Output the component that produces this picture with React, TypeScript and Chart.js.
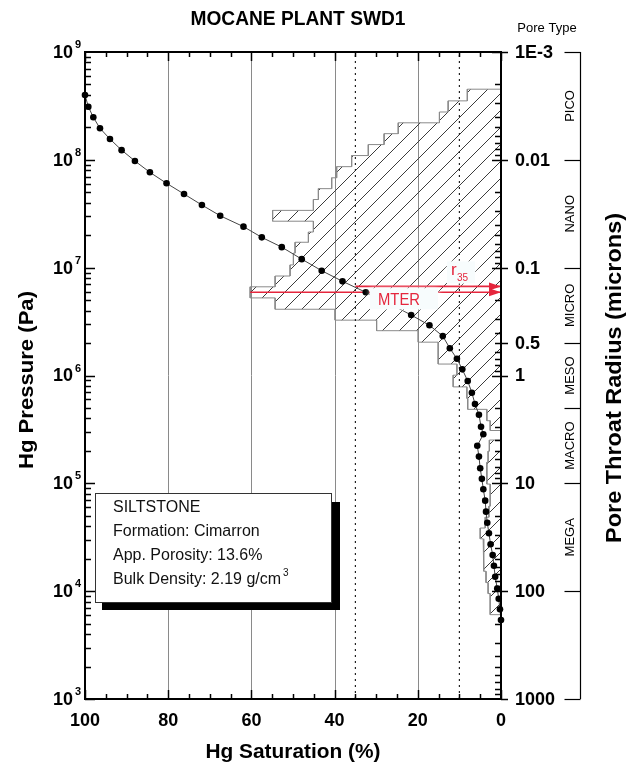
import React, { useEffect, useRef } from "react";
import { Chart, registerables } from "chart.js";

Chart.register(...registerables);

// Mercury injection capillary pressure curve: Hg saturation (%) vs injection pressure (Pa)
const HG_SATURATION = [
  100, 99.2, 98.0, 96.4, 94.0, 91.2, 88.0, 84.4, 80.4, 76.2, 71.9, 67.5, 61.9, 57.5, 52.7, 47.9,
  43.1, 38.1, 32.5, 26.9, 21.6, 17.2, 14.0, 12.3, 10.6, 9.3, 8.0, 7.0, 6.25, 5.3, 4.8, 4.25, 5.7,
  5.3, 5.0, 4.6, 4.25, 3.8, 3.6, 3.3, 2.9, 2.5, 2.0, 1.7, 1.4, 0.9, 0.55, 0.25, 0,
];
const HG_PRESSURE = [
  3.99e8, 3.11e8, 2.48e8, 1.96e8, 1.56e8, 1.23e8, 9.76e7, 7.66e7, 6.06e7, 4.82e7, 3.81e7, 3.03e7,
  2.4e7, 1.91e7, 1.55e7, 1.2e7, 9.37e6, 7.47e6, 5.91e6, 4.65e6, 3.64e6, 2.92e6, 2.32e6, 1.79e6,
  1.43e6, 1.14e6, 8.89e5, 6.92e5, 5.44e5, 4.33e5, 3.35e5, 2.85e5, 2.23e5, 1.77e5, 1.38e5, 1.1e5,
  8.81e4, 6.91e4, 5.46e4, 4.31e4, 3.44e4, 2.72e4, 2.16e4, 1.72e4, 1.36e4, 1.06e4, 8.51e3, 6.79e3,
  5.4e3,
];
// Incremental pore-throat distribution, one bar per pressure step (drawn on the saturation axis)
const PSD_INCREMENT = [
  8.1, 12.7, 14.8, 24.7, 28.1, 31.9, 35.9, 39.5, 40.7, 43.9, 45.1, 54.9, 45.1, 46.3, 49.5, 49.9,
  50.7, 54.3, 60.3, 54.3, 39.9, 29.9, 19.9, 15.1, 15.1, 10.6, 11.5, 8.2, 8.0, 3.4, 2.6, 0, 2.8,
  3.1, 3.4, 3.4, 2.6, 2.6, 2.9, 3.8, 5.0, 4.3, 4.1, 4.1, 3.6, 3.1, 2.6, 2.6, 0,
];

const SAT_TICK_LABELS = [100, 80, 60, 40, 20, 0];
const SAT_GRID = [80, 60, 40, 20];
const SAT_CUTOFFS = [35, 10];
const PRESSURE_EXPONENTS = [3, 4, 5, 6, 7, 8, 9];
const RADIUS_TICK_VALUES = [1e-3, 0.01, 0.1, 0.5, 1, 10, 100, 1000];
const RADIUS_TICK_LABELS = ["1E-3", "0.01", "0.1", "0.5", "1", "10", "100", "1000"];
const PORE_TYPES = ["PICO", "NANO", "MICRO", "MESO", "MACRO", "MEGA"];
const PORE_TYPE_BOUNDS = [1e-3, 0.01, 0.1, 0.5, 2, 10, 100, 1000];

const R35_SAT = 35;
const R35_PRESSURE = 6.7e6;
const MTER_SAT = 60.3;
const MTER_PRESSURE = 5.91e6;

const TITLE = "MOCANE PLANT SWD1";
const INFO_LINES = ["SILTSTONE", "Formation: Cimarron", "App. Porosity: 13.6%", "Bulk Density: 2.19 g/cm"];
const INFO_SUPERSCRIPT = "3";

const FONT = '"Liberation Sans", Arial, Helvetica, sans-serif';
const RED = "#e5263d";
const W = 618;
const H = 759;

function binEdges(p: number[]): number[] {
  const n = p.length;
  const e: number[] = [p[0] * Math.sqrt(p[0] / p[1])];
  for (let i = 0; i < n - 1; i++) e.push(Math.sqrt(p[i] * p[i + 1]));
  e.push(p[n - 1] * Math.sqrt(p[n - 1] / p[n - 2]));
  return e;
}

function histogramOutline() {
  const e = binEdges(HG_PRESSURE);
  const pts: { x: number; y: number }[] = [{ x: 0, y: e[0] }];
  PSD_INCREMENT.forEach((v, i) => {
    pts.push({ x: v, y: e[i] }, { x: v, y: e[i + 1] });
  });
  pts.push({ x: 0, y: e[e.length - 1] }, { x: 0, y: e[0] });
  return pts;
}

function makeHatch(ctx: CanvasRenderingContext2D): CanvasPattern {
  const s = 17;
  const c = document.createElement("canvas");
  c.width = s;
  c.height = s;
  const g = c.getContext("2d")!;
  g.strokeStyle = "#3c3c3c";
  g.lineWidth = 1;
  g.beginPath();
  g.moveTo(-2, s + 2);
  g.lineTo(s + 2, -2);
  g.moveTo(-2, 2);
  g.lineTo(2, -2);
  g.moveTo(s - 2, s + 2);
  g.lineTo(s + 2, s - 2);
  g.stroke();
  return ctx.createPattern(c, "repeat")!;
}

function fitText(
  ctx: CanvasRenderingContext2D,
  text: string,
  x: number,
  y: number,
  font: string,
  width: number,
  rot = 0
) {
  ctx.save();
  ctx.font = font;
  ctx.translate(x, y);
  ctx.rotate(rot);
  const w = ctx.measureText(text).width;
  ctx.scale(width / w, 1);
  ctx.textAlign = "center";
  ctx.textBaseline = "middle";
  ctx.fillText(text, 0, 0);
  ctx.restore();
}

function seg(ctx: CanvasRenderingContext2D, x1: number, y1: number, x2: number, y2: number) {
  ctx.beginPath();
  ctx.moveTo(x1, y1);
  ctx.lineTo(x2, y2);
  ctx.stroke();
}

const decorations = {
  id: "decorations",
  beforeDatasetsDraw(chart: any) {
    const { ctx, chartArea: a, scales } = chart;
    ctx.save();
    ctx.strokeStyle = "#8a8a8a";
    ctx.lineWidth = 1;
    SAT_GRID.forEach((v) => {
      const px = Math.round(scales.x.getPixelForValue(v)) + 0.5;
      seg(ctx, px, a.top, px, a.bottom);
    });
    ctx.restore();
  },
  afterDatasetsDraw(chart: any) {
    const { ctx, chartArea: a, scales } = chart;
    const xs = scales.x;
    const ys = scales.y;
    const rs = scales.radius;
    ctx.save();

    // label backdrops
    ctx.fillStyle = "#f7fcfd";
    ctx.shadowColor = "rgba(255,255,255,0.9)";
    ctx.shadowBlur = 5;
    const mterY = ys.getPixelForValue(MTER_PRESSURE);
    const r35Y = ys.getPixelForValue(R35_PRESSURE);
    ctx.fillRect(362, mterY - 4, 68, 21);
    ctx.fillRect(439, r35Y - 25, 28, 22);
    ctx.shadowBlur = 0;

    ctx.fillStyle = RED;
    fitText(ctx, "MTER", 391, mterY + 8, `17px ${FONT}`, 42);
    ctx.textAlign = "left";
    ctx.textBaseline = "alphabetic";
    ctx.font = `17px ${FONT}`;
    ctx.fillText("r", 443, r35Y - 11);
    ctx.font = `10px ${FONT}`;
    ctx.fillText("35", 449, r35Y - 5);

    // arrowheads at the radius axis
    const tipX = xs.getPixelForValue(0);
    [r35Y, mterY].forEach((py) => {
      ctx.beginPath();
      ctx.moveTo(tipX, py);
      ctx.lineTo(tipX - 12, py - 4);
      ctx.lineTo(tipX - 12, py + 4);
      ctx.closePath();
      ctx.fill();
    });

    // sample description box with drop shadow
    ctx.fillStyle = "#000";
    ctx.fillRect(324, 494, 8, 108);
    ctx.fillRect(94, 595, 238, 7);
    ctx.fillStyle = "#fff";
    ctx.fillRect(87, 485, 237, 110);
    ctx.strokeStyle = "#333";
    ctx.lineWidth = 1;
    ctx.strokeRect(87.5, 485.5, 236, 109);
    ctx.fillStyle = "#111";
    ctx.textAlign = "left";
    ctx.textBaseline = "middle";
    INFO_LINES.forEach((t, i) => {
      const ty = 500 + i * 24;
      ctx.font = `16px ${FONT}`;
      ctx.fillText(t, 105, ty);
      if (i === INFO_LINES.length - 1) {
        const w = ctx.measureText(t).width;
        ctx.font = `10px ${FONT}`;
        ctx.fillText(INFO_SUPERSCRIPT, 105 + w + 2, ty - 7);
      }
    });

    // frame
    ctx.strokeStyle = "#000";
    ctx.lineWidth = 2;
    ctx.strokeRect(a.left, a.top, a.right - a.left, a.bottom - a.top);

    // saturation ticks (top and bottom, inward)
    ctx.lineWidth = 1.5;
    for (let v = 0; v <= 100; v += 5) {
      const px = Math.round(xs.getPixelForValue(v)) + 0.5;
      const len = v % 20 === 0 ? 9 : 5;
      seg(ctx, px, a.top, px, a.top + len);
      seg(ctx, px, a.bottom, px, a.bottom - len);
    }
    // pressure ticks (left, inward)
    for (let k = 3; k < 9; k++) {
      for (let m = 1; m < 10; m++) {
        const py = Math.round(ys.getPixelForValue(m * 10 ** k)) + 0.5;
        seg(ctx, a.left, py, a.left + (m === 1 ? 10 : 6), py);
      }
    }
    // radius ticks (right, inward minor + crossing labelled)
    for (let k = -3; k < 3; k++) {
      for (let m = 1; m < 10; m++) {
        const py = Math.round(rs.getPixelForValue(m * 10 ** k)) + 0.5;
        seg(ctx, a.right, py, a.right - (m === 1 ? 9 : 6), py);
      }
    }
    RADIUS_TICK_VALUES.forEach((v) => {
      const py = Math.round(rs.getPixelForValue(v)) + 0.5;
      seg(ctx, a.right, py, a.right + 7, py);
    });

    // tick labels
    ctx.fillStyle = "#000";
    ctx.textBaseline = "middle";
    PRESSURE_EXPONENTS.forEach((k) => {
      const py = ys.getPixelForValue(10 ** k);
      ctx.font = `bold 18px ${FONT}`;
      ctx.textAlign = "right";
      ctx.fillText("10", a.left - 12, py + 1);
      ctx.font = `bold 11px ${FONT}`;
      ctx.textAlign = "left";
      ctx.fillText(String(k), a.left - 10, py - 7);
    });
    ctx.font = `bold 18px ${FONT}`;
    ctx.textAlign = "left";
    RADIUS_TICK_VALUES.forEach((v, i) => {
      ctx.fillText(RADIUS_TICK_LABELS[i], a.right + 14, rs.getPixelForValue(v) + 1);
    });
    ctx.textAlign = "center";
    SAT_TICK_LABELS.forEach((v) => {
      ctx.fillText(String(v), xs.getPixelForValue(v), a.bottom + 22);
    });

    // pore type bracket
    const bx = a.right + 79.5;
    ctx.lineWidth = 1.2;
    seg(ctx, bx, rs.getPixelForValue(1e-3), bx, rs.getPixelForValue(1e3));
    PORE_TYPE_BOUNDS.forEach((v) => {
      const py = Math.round(rs.getPixelForValue(v)) + 0.5;
      seg(ctx, bx - 16, py, bx, py);
    });
    PORE_TYPES.forEach((t, i) => {
      const mid = Math.sqrt(PORE_TYPE_BOUNDS[i] * PORE_TYPE_BOUNDS[i + 1]);
      ctx.save();
      ctx.translate(bx - 10, rs.getPixelForValue(mid));
      ctx.rotate(-Math.PI / 2);
      ctx.font = `13px ${FONT}`;
      ctx.textAlign = "center";
      ctx.textBaseline = "middle";
      ctx.fillText(t, 0, 0);
      ctx.restore();
    });
    ctx.font = `13px ${FONT}`;
    ctx.textAlign = "center";
    ctx.fillText("Pore Type", 539, 20);

    // titles
    fitText(ctx, TITLE, 290, 11, `bold 20px ${FONT}`, 215);
    fitText(ctx, "Hg Saturation (%)", 285, 744, `bold 21px ${FONT}`, 175);
    fitText(ctx, "Hg Pressure (Pa)", 19, 372, `bold 21px ${FONT}`, 178, -Math.PI / 2);
    fitText(ctx, "Pore Throat Radius (microns)", 607, 370, `bold 22px ${FONT}`, 330, -Math.PI / 2);

    ctx.restore();
  },
};

export default function App() {
  const ref = useRef<HTMLCanvasElement>(null);

  useEffect(() => {
    const canvas = ref.current!;
    const ctx = canvas.getContext("2d")!;
    const hatch = makeHatch(ctx);
    const curve = HG_SATURATION.map((s, i) => ({ x: s, y: HG_PRESSURE[i] }));

    const chart = new Chart(ctx, {
      type: "scatter",
      data: {
        datasets: [
          {
            label: "Hg injection",
            data: curve,
            showLine: true,
            borderColor: "#444",
            borderWidth: 1,
            pointRadius: 3.3,
            pointBackgroundColor: "#000",
            pointBorderWidth: 0,
            clip: false,
            order: 0,
          },
          {
            label: "r35",
            data: [
              { x: R35_SAT, y: R35_PRESSURE },
              { x: 0, y: R35_PRESSURE },
            ],
            showLine: true,
            borderColor: RED,
            borderWidth: 1.6,
            pointRadius: 0,
            order: 1,
          },
          {
            label: "MTER",
            data: [
              { x: MTER_SAT, y: MTER_PRESSURE },
              { x: 0, y: MTER_PRESSURE },
            ],
            showLine: true,
            borderColor: RED,
            borderWidth: 1.6,
            pointRadius: 0,
            order: 1,
          },
          ...SAT_CUTOFFS.map((s) => ({
            label: `${s}% cutoff`,
            data: [
              { x: s, y: 1e3 },
              { x: s, y: 1e9 },
            ],
            showLine: true,
            borderColor: "#222",
            borderWidth: 1.2,
            borderDash: [2, 4],
            pointRadius: 0,
            order: 2,
          })),
          {
            label: "Pore throat distribution",
            data: histogramOutline(),
            showLine: true,
            borderColor: "#8a8a8a",
            borderWidth: 1,
            backgroundColor: hatch,
            fill: "shape",
            pointRadius: 0,
            tension: 0,
            order: 3,
          },
        ],
      },
      options: {
        animation: false,
        responsive: false,
        devicePixelRatio: 1,
        events: [],
        layout: { padding: { left: 77, top: 44, right: W - 493, bottom: H - 691 } },
        plugins: {
          legend: { display: false },
          tooltip: { enabled: false },
          title: { display: false },
        },
        scales: {
          x: { type: "linear", min: 0, max: 100, reverse: true, display: false },
          y: { type: "logarithmic", min: 1e3, max: 1e9, display: false },
          radius: {
            type: "logarithmic",
            position: "right",
            min: 1e-3,
            max: 1e3,
            reverse: true,
            display: false,
          },
        },
      },
      plugins: [decorations],
    } as any);

    return () => chart.destroy();
  }, []);

  return <canvas ref={ref} width={W} height={H} style={{ display: "block" }} />;
}
